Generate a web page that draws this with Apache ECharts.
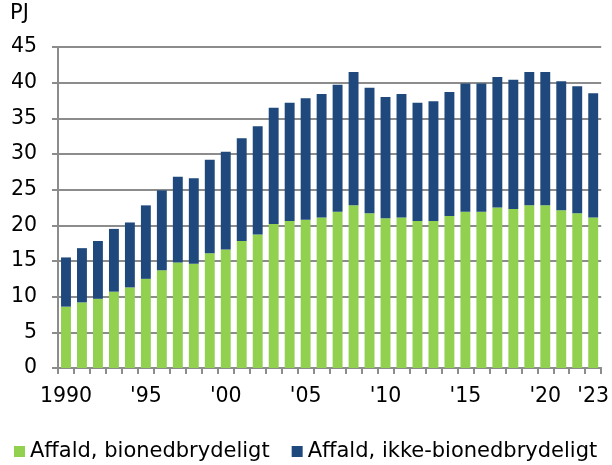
<!DOCTYPE html>
<html><head><meta charset="utf-8">
<script src="https://cdn.jsdelivr.net/npm/echarts@6/dist/echarts.min.js"></script>
<style>html,body{margin:0;padding:0;background:#fff}#c{width:612px;height:465px}</style>
</head><body><div id="c"></div>
<script>
const years = [];
for (let y = 1990; y <= 2023; y++) years.push(String(y));
const xTickLabels = {"1990":"1990","1995":"'95","2000":"'00","2005":"'05","2010":"'10","2015":"'15","2020":"'20","2023":"'23"};
const totals = [15.5,16.8,17.8,19.5,20.4,22.8,24.9,26.8,26.6,29.2,30.3,32.2,33.9,36.5,37.2,37.8,38.4,39.7,41.5,39.3,38.0,38.4,37.2,37.4,38.7,39.9,39.9,40.8,40.4,41.5,41.5,40.2,39.5,38.5];
const bio = [8.6,9.2,9.7,10.7,11.3,12.5,13.7,14.8,14.6,16.1,16.6,17.8,18.7,20.2,20.6,20.8,21.1,21.9,22.8,21.7,21.0,21.1,20.6,20.6,21.3,21.9,21.9,22.5,22.3,22.8,22.8,22.1,21.7,21.1];
const nonBio = totals.map((t, i) => +(t - bio[i]).toFixed(2));
const seriesNames = ["Affald, bionedbrydeligt", "Affald, ikke-bionedbrydeligt"];
const font = "DejaVu Sans";
const chart = echarts.init(document.getElementById('c'));
chart.setOption({
  animation: false,
  textStyle: {fontFamily: font},
  grid: {left: 58, right: 6, top: 47, bottom: 97, containLabel: false},
  graphic: [{type: 'text', left: 10, top: 3, style: {text: 'PJ', font: '21px "DejaVu Sans"', fill: '#000'}}],
  legend: {
    top: 441, left: 14, itemGap: 22, itemWidth: 11, itemHeight: 11, icon: 'rect', padding: 0,
    textStyle: {fontSize: 21, fontFamily: font, color: '#000'},
    data: seriesNames
  },
  xAxis: {
    type: 'category', data: years,
    axisLine: {lineStyle: {color: '#8c8c8c', width: 2}},
    axisTick: {show: true, length: 6, lineStyle: {color: '#8c8c8c', width: 2}},
    axisLabel: {interval: 0, fontSize: 20.5, color: '#000', margin: 18,
      formatter: v => xTickLabels[v] || ''}
  },
  yAxis: {
    type: 'value', min: 0, max: 45, interval: 5,
    axisLine: {show: true, lineStyle: {color: '#8c8c8c', width: 2}},
    axisTick: {show: true, length: 6, lineStyle: {color: '#8c8c8c', width: 2}},
    splitLine: {lineStyle: {color: '#8c8c8c', width: 2}},
    axisLabel: {fontSize: 20.5, color: '#000', margin: 21}
  },
  series: [
    {name: seriesNames[0], type: 'bar', stack: 's', data: bio, barCategoryGap: '38%', itemStyle: {color: '#92D050'}},
    {name: seriesNames[1], type: 'bar', stack: 's', data: nonBio, itemStyle: {color: '#1F497D'}}
  ]
});
</script></body></html>
